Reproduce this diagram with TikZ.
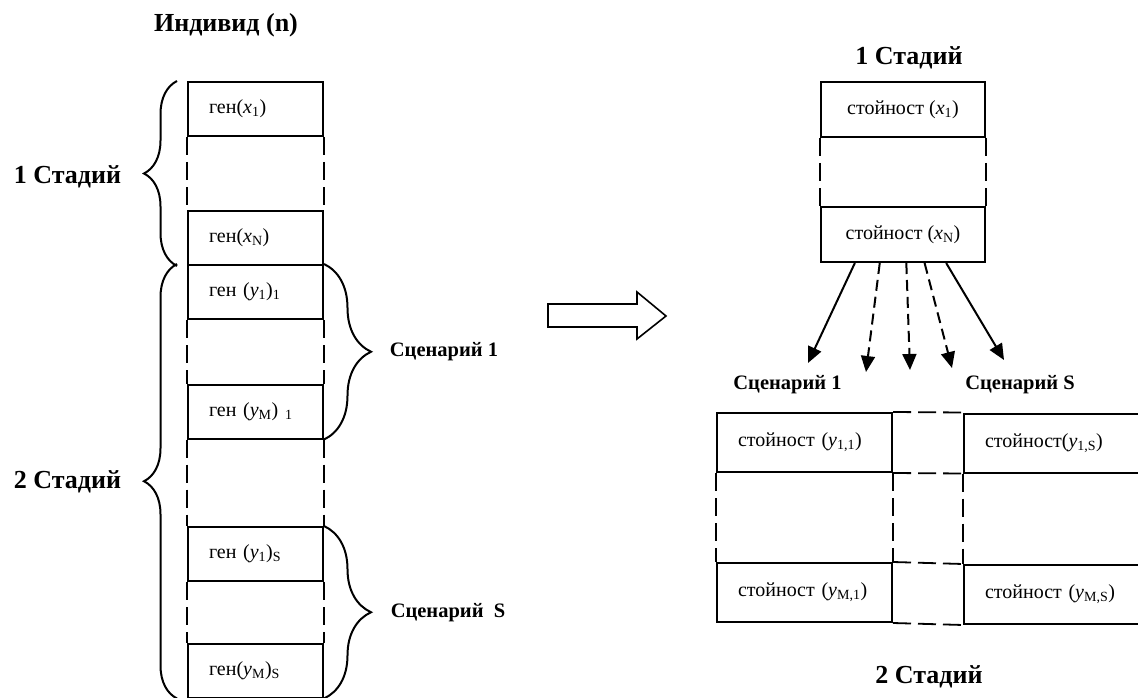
\documentclass[tikz,border=0pt]{standalone}
\usepackage{fontspec}
\setmainfont{Liberation Serif}
\usepackage{tikz}
\usetikzlibrary{arrows.meta, calc, decorations.pathreplacing}
\tikzset{
	gen/.style  ={rectangle, draw=black, line width=2pt, minimum height=54pt, text width=93pt, inner xsep=21pt, inner ysep=0pt, align=left, font=\fontsize{20}{24}\selectfont},
	val/.style  ={rectangle, draw=black, line width=2pt, minimum width=164pt, minimum height=55pt, inner sep=0pt, align=center, font=\fontsize{20}{24}\selectfont},
	valb/.style ={rectangle, draw=black, line width=2pt, minimum height=59pt, text width=133pt, inner xsep=21pt, inner ysep=0pt, align=left, font=\fontsize{20}{24}\selectfont},
	stage/.style={font=\fontsize{26}{30}\selectfont\bfseries},
	scen/.style ={font=\fontsize{20.5}{24}\selectfont\bfseries},
	dsh/.style  ={dash pattern=on 18pt off 7pt, line width=1.8pt},
	adsh/.style ={dash pattern=on 11pt off 6pt},
	arr/.style  ={-{Triangle[length=16pt, width=14pt]}, line width=2pt},
	brc/.style  ={decorate, line width=2pt},
}

\begin{document}
\begin{tikzpicture}[x=1pt, y=-1pt]
	\useasboundingbox (0,0) rectangle (1138,698);
	% individual (left)
	\node[stage] (ind) at (226,25) {Индивид (n)};
	\node[gen] (gx1)  at (255.5,109)   {ген(\textit{x}\textsubscript{1})};
	\node[gen] (gxN)  at (255.5,238)   {ген(\textit{x}\textsubscript{N})};
	\node[gen] (gy11) at (255.5,292)   {ген (\textit{y}\textsubscript{1})\textsubscript{1}};
	\node[gen] (gyM1) at (255.5,411.5) {ген (\textit{y}\textsubscript{M}) \textsubscript{1}};
	\node[gen] (gy1S) at (255.5,554)   {ген (\textit{y}\textsubscript{1})\textsubscript{S}};
	\node[gen] (gyMS) at (255.5,670.5) {ген(\textit{y}\textsubscript{M})\textsubscript{S}};
	\foreach \a/\b in {gx1/gxN, gy11/gyM1, gyM1/gy1S, gy1S/gyMS} {
		\draw[dsh] (\a.south west) -- (\b.north west);
		\draw[dsh] (\a.south east) -- (\b.north east);
	}
	\draw[brc, decoration={brace, amplitude=33pt, raise=10pt}] (gxN.south west) -- (gx1.north west);
	\draw[brc, decoration={brace, amplitude=33pt, raise=10pt}] (gyMS.south west) -- (gy11.north west);
	\draw[brc, decoration={brace, amplitude=47pt}] (gy11.north east) -- (gyM1.south east);
	\draw[brc, decoration={brace, amplitude=47pt}] (gy1S.north east) -- (gyMS.south east);
	\node[stage] (st1) at (67.5,177) {1 Стадий};
	\node[stage] (st2) at (67.5,482) {2 Стадий};
	\node[scen] (sc1) at (444,352) {Сценарий 1};
	\node[scen] (scS) at (448,613) {Сценарий\ \ S};
	% block arrow
	\draw[line width=1.6pt] (548,304) -- (637,304) -- (637,292) -- (666,316) -- (637,339) -- (637,327) -- (548,327) -- cycle;
	% values (right)
	\node[stage] (rst1) at (909,58) {1 Стадий};
	\node[val] (vx1) at (903,109.5) {стойност (\textit{x}\textsubscript{1})};
	\node[val] (vxN) at (903,234.5) {стойност (\textit{x}\textsubscript{N})};
	\draw[dsh] (vx1.south west) -- (vxN.north west);
	\draw[dsh] (vx1.south east) -- (vxN.north east);
	\coordinate (e1) at (808,363);
	\coordinate (e2) at (866,372);
	\coordinate (e3) at (910,370);
	\coordinate (e4) at (952,368);
	\coordinate (e5) at (1004,360);
	\foreach \f/\e in {0.21/e1, 0.76/e5}
		\draw[arr] ($(vxN.south west)!\f!(vxN.south east)$) -- (\e);
	\foreach \f/\e in {0.36/e2, 0.52/e3, 0.63/e4}
		\draw[arr, adsh] ($(vxN.south west)!\f!(vxN.south east)$) -- (\e);
	\node[scen] (rsc1) at (787.5,385) {Сценарий 1};
	\node[scen] (rscS) at (1020,385) {Сценарий S};
	\node[valb] (vy11) at (804.5,442.5) {стойност (\textit{y}\textsubscript{1,1})};
	\node[valb] (vyM1) at (804.5,592.5) {стойност (\textit{y}\textsubscript{M,1})};
	\node[valb, text width=144pt] (vy1S) at (1057,443)   {стойност(\textit{y}\textsubscript{1,S})};
	\node[valb, text width=144pt] (vyMS) at (1057,594.5) {стойност (\textit{y}\textsubscript{M,S})};
	\foreach \a/\b in {vy11/vyM1} {
		\draw[dsh] (\a.south west) -- (\b.north west);
		\draw[dsh] (\a.south east) -- (\b.north east);
	}
	\draw[dsh] (vy1S.south west) -- (vyMS.north west);
	\foreach \a/\b in {vy11/vy1S, vyM1/vyMS} {
		\draw[dsh] (\a.north east) -- (\b.north west);
		\draw[dsh] (\a.south east) -- (\b.south west);
	}
	\node[stage] (rst2) at (929,677) {2 Стадий};
\end{tikzpicture}
\end{document}
